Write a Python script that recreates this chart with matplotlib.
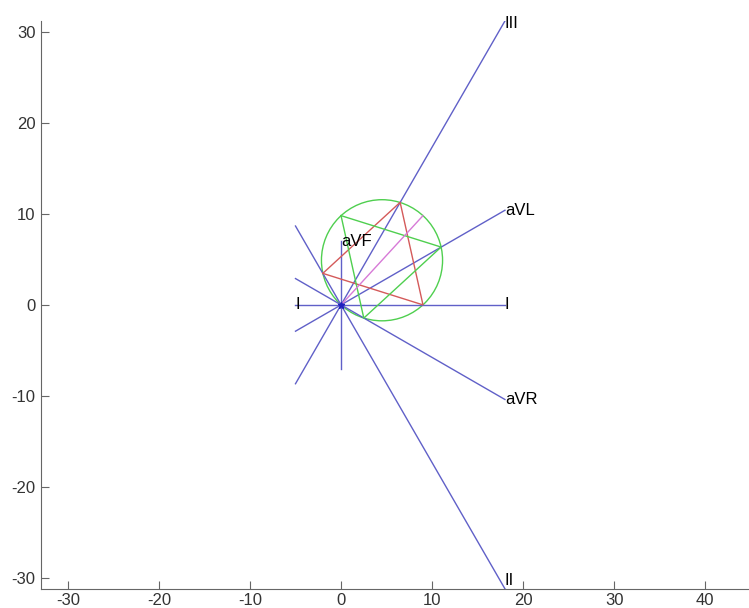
import matplotlib
matplotlib.use("Agg")
import matplotlib.pyplot as plt
from matplotlib.patches import Circle

plt.rcParams['font.family'] = ['Liberation Sans', 'DejaVu Sans']
plt.rcParams['axes.unicode_minus'] = False

# lead axes (start -> end)
lead_names = ['I', 'aVL', 'III', 'aVR', 'II', 'aVF']
lead_x0 = [-5, -5, -5, -5, -5, 0]
lead_y0 = [0, -2.89, -8.66, 2.89, 8.66, -7]
lead_x1 = [18, 18, 18, 18, 18, 0]
lead_y1 = [0, 10.39, 31.18, -10.39, -31.18, 7]
# where the lead names sit
label_x = [18, 18, 18, 18, 18, 0]
label_y = [0, 10.39, 30.9, -10.39, -30.3, 7]

# projections of the mean vector (Einthoven triangle)
red_x = [-2.0, 6.49, 9.0, -2.0]
red_y = [3.46, 11.26, 0.0, 3.46]
green_x = [0.0, 10.99, 2.5, 0.0]
green_y = [9.8, 6.35, -1.45, 9.8]
vec_x = [0, 9.0]
vec_y = [0, 9.8]
circle_center = (4.5, 4.9)
circle_r = 6.65

xticks = [-30, -20, -10, 0, 10, 20, 30, 40]
yticks = [-30, -20, -10, 0, 10, 20, 30]

blue = '#6060c8'
fig = plt.figure(figsize=(7.49, 6.08), dpi=100)
ax = fig.add_axes([0.0547, 0.03125, 0.9453, 0.9346])

for i in range(len(lead_names)):
    ax.plot([lead_x0[i], lead_x1[i]], [lead_y0[i], lead_y1[i]], color=blue, lw=1)
    ax.text(label_x[i], label_y[i], lead_names[i], ha='left', va='center', fontsize=12)
# "I" also marks the other end of lead I
ax.text(lead_x0[0], lead_y0[0], 'I', ha='left', va='center', fontsize=12)

ax.add_patch(Circle(circle_center, circle_r, fill=False, ec='#4fcf4f', lw=1))
ax.plot(red_x, red_y, color='#d45a5a', lw=1)
ax.plot(green_x, green_y, color='#4fcf4f', lw=1)
ax.plot(vec_x, vec_y, color='#d77ad7', lw=1)
ax.plot([0], [0], marker='*', color='#2020c0', ms=5)

ax.set_xlim(-32.95, 44.8)
ax.set_ylim(-31.2, 31.2)
ax.set_xticks(xticks)
ax.set_yticks(yticks)
ax.spines['top'].set_visible(False)
ax.spines['right'].set_visible(False)
for s in ['left', 'bottom']:
    ax.spines[s].set_color('#666666')
ax.tick_params(direction='in', length=5.5, color='#666666', labelsize=12,
               labelcolor='#333333')
ax.tick_params(axis='x', pad=3)
ax.tick_params(axis='y', pad=4)

fig.savefig('out.png', dpi=100)
